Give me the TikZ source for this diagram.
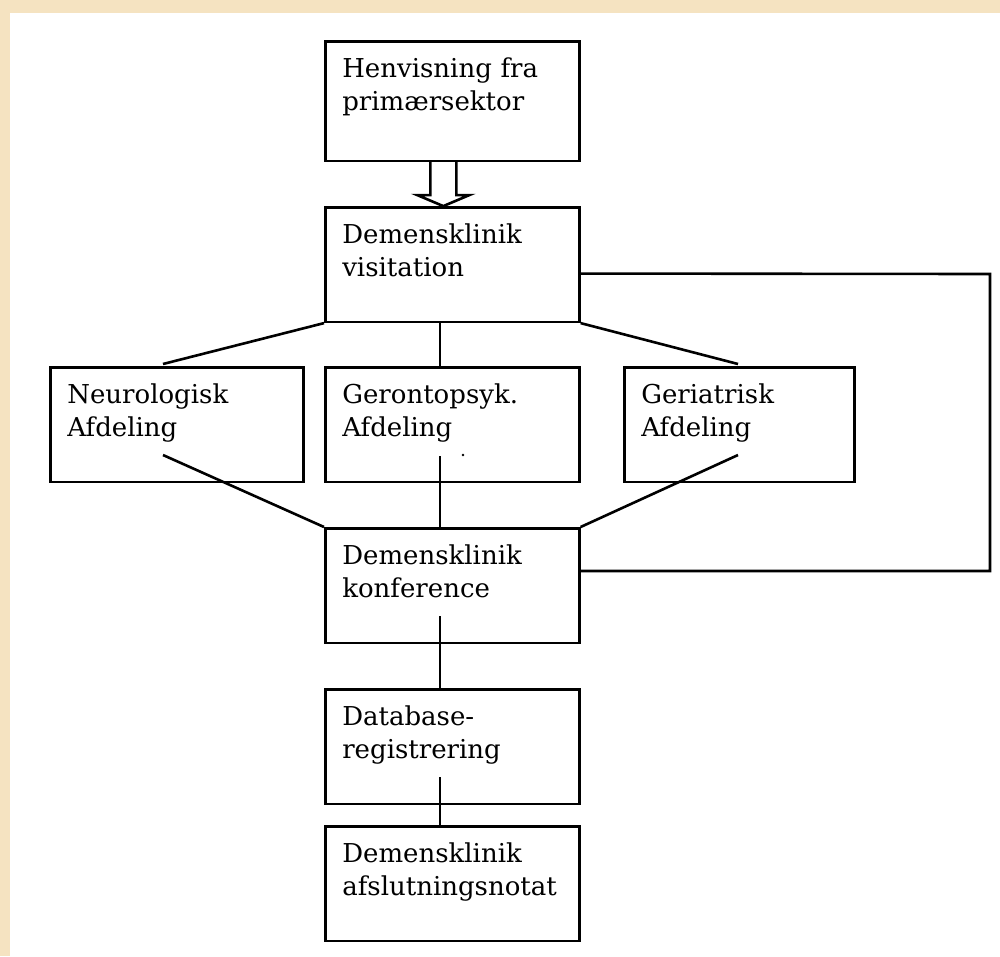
\documentclass[tikz,border=0pt]{standalone}
\usepackage{fontspec}
\setmainfont{DejaVu Serif}
\usetikzlibrary{calc}
\definecolor{framebeige}{RGB}{245,227,193}

\begin{document}
\begin{tikzpicture}[x=1pt,y=-1pt,line width=2.6pt,
  box/.style={draw,rectangle,anchor=north west,inner xsep=17pt,inner ysep=0pt,text width=220pt,align=left,text height=36.5pt,text depth=78pt,font=\fontsize{26}{33}\selectfont}]
  \useasboundingbox (0,0) rectangle (1000,956);
  \fill[framebeige] (0,0) rectangle (1000,956);
  \fill[white] (10,13) rectangle (1000,956);

  \node[box,text depth=83pt] (henv) at (324,40) {Henvisning fra\\primærsektor};
  \node[box] (visit) at (324,206) {Demensklinik\\visitation};
  \node[box,text width=219pt] (neuro) at (49,366) {Neurologisk\\Afdeling};
  \node[box] (geron) at (324,366) {Gerontopsyk.\\Afdeling};
  \node[box,text width=196pt] (geri) at (623,366) {Geriatrisk\\Afdeling};
  \node[box] (konf) at (324,527) {Demensklinik\\konference};
  \node[box] (datab) at (324,688) {Database-\\registrering};
  \node[box] (afsl) at (324,825) {Demensklinik\\afslutningsnotat};

  \coordinate (neuroTop) at (163,364);
  \coordinate (neuroIn) at (163,455);
  \coordinate (geronIn) at (440,456);
  \coordinate (geriTop) at (738,364);
  \coordinate (geriIn) at (738,455);
  \coordinate (konfIn) at (440,616);
  \coordinate (databIn) at (440,777);
  \coordinate (loopNE) at (990,274);
  \coordinate (loopSE) at (990,571);

  % hollow arrow
  \draw (henv.south) ++(-22,0) -- ++(0,33) -- ++(-13,0) -- ++(26,11) -- ++(26,-11) -- ++(-13,0) -- ++(0,-33);

\path[draw]
  (visit.south west) edge (neuroTop)
  (visit.south -| geronIn) edge (geron.north -| geronIn)
  (visit.south east) edge (geriTop)
  (neuroIn) edge (konf.north west)
  (geronIn) edge (konf.north -| geronIn)
  (geriIn) edge (konf.north east)
  (konfIn) edge (datab.north -| konfIn)
  (databIn) edge (afsl.north -| databIn)
;
  \draw ($(visit.east)+(0,9)$) -- (loopNE) -- (loopSE) -- (konf.east |- loopSE);
  \fill (463,455) circle (1.4);
\end{tikzpicture}
\end{document}
